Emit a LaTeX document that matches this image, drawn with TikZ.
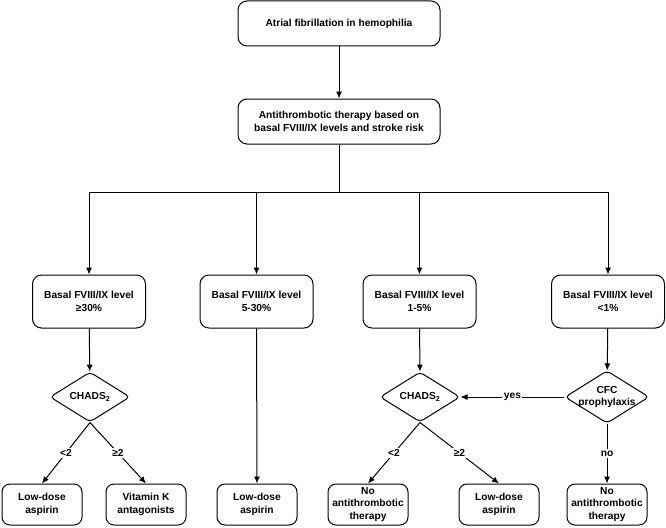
\documentclass[tikz,border=0pt]{standalone}
\usepackage{fontspec}
\setmainfont{Liberation Sans}
\usetikzlibrary{arrows.meta,shapes.geometric,positioning}

\begin{document}
\begin{tikzpicture}[x=1pt,y=1pt,>={Latex[length=7pt,width=6pt]},line width=1pt,
    every node/.style={font=\fontsize{10.2}{12.4}\selectfont\bfseries},
    bigbox/.style={draw,rounded corners=9pt,align=center,minimum width=202pt,minimum height=45pt,inner sep=2pt},
    levelbox/.style={draw,rounded corners=9pt,align=center,minimum width=113pt,minimum height=53pt,inner sep=2pt},
    endbox/.style={draw,rounded corners=8pt,align=center,minimum width=80pt,minimum height=41pt,inner sep=0.5pt},
    choice/.style={draw,diamond,rounded corners=4pt,align=center,aspect=1.6,minimum width=80pt,minimum height=50pt,inner sep=-1.5pt},
    branch/.style={fill=white,inner sep=1.5pt}]
  \useasboundingbox (0,0) rectangle (666,-527);
  % top part
  \node[bigbox] (af) at (339,-23.5) {Atrial fibrillation in hemophilia};
  \node[bigbox] (therapy) at (339,-121.5) {Antithrombotic therapy based on\\basal FVIII/IX levels and stroke risk};
  \coordinate (bus) at (339,-192);
  % basal levels
  \node[levelbox] (lvlA) at (89,-301.5) {Basal FVIII/IX level\\≥30\%};
  \node[levelbox] (lvlB) at (256.5,-301.5) {Basal FVIII/IX level\\5-30\%};
  \node[levelbox] (lvlC) at (419.5,-301.5) {Basal FVIII/IX level\\1-5\%};
  \node[levelbox] (lvlD) at (608,-301.5) {Basal FVIII/IX level\\<1\%};
  % decisions
  \node[choice] (chadsA) at (90,-397) {CHADS\textsubscript{2}};
  \node[choice] (chadsC) at (420,-397) {CHADS\textsubscript{2}};
  \node[choice] (cfc) at (607,-397) {CFC\\prophylaxis};
  % outcomes
  \node[endbox] (aspA) at (42,-504.5) {Low-dose\\aspirin};
  \node[endbox] (vka) at (146,-504.5) {Vitamin K\\antagonists};
  \node[endbox] (aspB) at (257,-504.5) {Low-dose\\aspirin};
  \node[endbox] (noneC) at (368,-504.5) {No\\antithrombotic\\therapy};
  \node[endbox] (aspC) at (499,-504.5) {Low-dose\\aspirin};
  \node[endbox] (noneD) at (607,-504.5) {No\\antithrombotic\\therapy};

  \draw[->] (af) -- (therapy);
  \draw (therapy) -- (bus);
  \draw (lvlA |- bus) -- (lvlD |- bus);
  \foreach \n in {lvlA,lvlB,lvlC,lvlD}
    \draw[->] (\n |- bus) -- (\n);
  \draw[->] (lvlA) -- (chadsA);
  \draw[->] (lvlB) -- (aspB);
  \draw[->] (lvlC) -- (chadsC);
  \draw[->] (lvlD) -- (cfc);
  \draw[->] (chadsA.south) -- node[branch]{<2} (aspA.north);
  \draw[->] (chadsA.south) -- node[branch]{≥2} (vka.north);
  \draw[->] (chadsC.south) -- node[branch]{<2} (noneC.north);
  \draw[->] (chadsC.south) -- node[branch]{≥2} (aspC.north);
  \draw[->] (cfc) -- node[branch]{yes} (chadsC);
  \draw[->] (cfc) -- node[branch]{no} (noneD);
\end{tikzpicture}
\end{document}
